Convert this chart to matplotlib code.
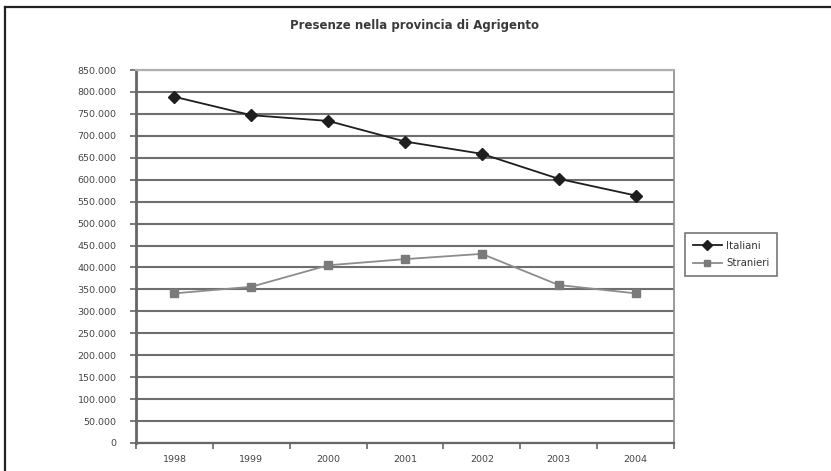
import matplotlib
matplotlib.use("Agg")
from matplotlib import pyplot as plt
from matplotlib.lines import Line2D
from matplotlib.ticker import FuncFormatter

anni = ['1998', '1999', '2000', '2001', '2002', '2003', '2004']
italiani = [789000, 747000, 734000, 687000, 659000, 602000, 564000]
stranieri = [341000, 356000, 405000, 419000, 431000, 360000, 341000]

fig = plt.figure(figsize=(8.31, 4.71), dpi=100)
W, H = 831, 471
ax = fig.add_axes([136 / W, 1 - 443 / H, (674 - 136) / W, (443 - 70) / H])

x = list(range(len(anni)))
ax.plot(x, italiani, color='#1e1e1e', lw=1.3, marker='D', ms=6,
        mfc='#1e1e1e', mec='#1e1e1e', label='Italiani', zorder=3)
ax.plot(x, stranieri, color='#8c8c8c', lw=1.3, marker='s', ms=6,
        mfc='#7a7a7a', mec='#7a7a7a', label='Stranieri', zorder=3)

ax.set_xlim(-0.5, len(anni) - 0.5)
ax.set_ylim(0, 850000)
ax.set_yticks(range(0, 850001, 50000))
ax.yaxis.set_major_formatter(FuncFormatter(
    lambda v, p: '{:,}'.format(int(v)).replace(',', '.')))
ax.grid(axis='y', color='#6e6e6e', lw=1.5, zorder=1)

ax.set_xticks(x)
ax.set_xticklabels(anni)
ax.set_xticks([i - 0.5 for i in range(len(anni) + 1)], minor=True)
ax.tick_params(axis='x', which='major', length=0, pad=9,
               labelsize=6.8, labelcolor='#444444')
ax.tick_params(axis='x', which='minor', length=4, width=1.2,
               direction='out', color='#666666')
ax.tick_params(axis='y', length=4, width=1.2, direction='out',
               color='#666666', labelsize=6.8, labelcolor='#444444', pad=10)

ax.spines['left'].set_color('#666666')
ax.spines['left'].set_linewidth(2)
ax.spines['bottom'].set_color('#666666')
ax.spines['bottom'].set_linewidth(1.6)
ax.spines['right'].set_color('#8a8a8a')
ax.spines['right'].set_linewidth(1.2)
ax.spines['top'].set_color('#b0b0b0')
ax.spines['top'].set_linewidth(1.6)

fig.text(415 / W, 1 - 25 / H, 'Presenze nella provincia di Agrigento',
         ha='center', va='center', fontsize=8.5, fontweight='bold',
         color='#3a3a3a')

leg = fig.legend(loc='upper left', bbox_to_anchor=(685 / W, 1 - 233 / H),
                 borderaxespad=0, fontsize=7.3, frameon=True, fancybox=False,
                 edgecolor='#555555', handlelength=2.9, handletextpad=0.4,
                 borderpad=0.75, labelspacing=0.75, markerscale=0.8)
leg.get_frame().set_linewidth(1.2)
for t in leg.get_texts():
    t.set_color('#333333')

# cornice esterna
fig.add_artist(Line2D([5 / W, 1], [1 - 6.5 / H, 1 - 6.5 / H],
                      transform=fig.transFigure, color='#222222', lw=1.6))
fig.add_artist(Line2D([5 / W, 5 / W], [0, 1 - 6.5 / H],
                      transform=fig.transFigure, color='#222222', lw=1.6))

fig.savefig('out.png', dpi=100)
